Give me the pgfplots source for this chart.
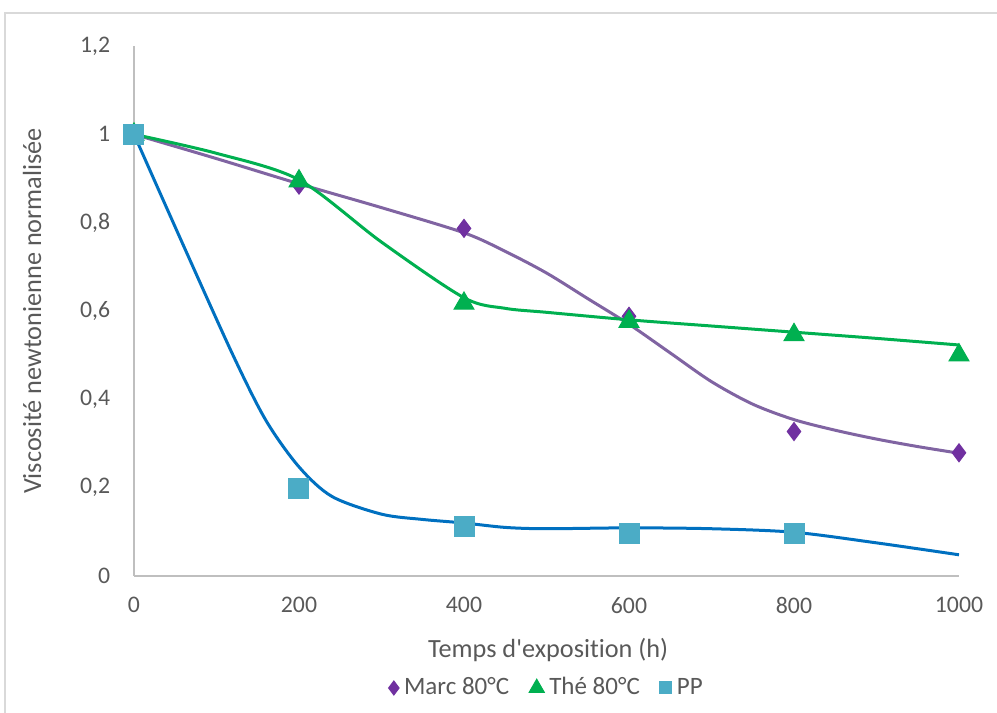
\documentclass[border=0pt]{standalone}
\usepackage{pgfplots}
\pgfplotsset{compat=1.18}
\usepackage{fontspec}
\setmainfont[Ligatures={NoCommon}]{Carlito}
\definecolor{txt}{HTML}{595959}
\definecolor{axgray}{HTML}{BFBFBF}
\definecolor{frame}{HTML}{D9D9D9}
\definecolor{marcM}{HTML}{7030A0}
\definecolor{marcL}{HTML}{8064A2}
\definecolor{the}{HTML}{00B050}
\definecolor{ppM}{HTML}{4BACC6}
\definecolor{ppL}{HTML}{0070C0}
\begin{document}
\begin{tikzpicture}
\useasboundingbox (-53.6pt,-54.8pt) rectangle (345.2pt,230.4pt);
\draw[frame, line width=0.8pt] (-51.6pt,-60pt) -- (-51.6pt,225.2pt) -- (350pt,225.2pt);
\begin{axis}[
  at={(0,0)}, anchor=south west,
  scale only axis, width=330pt, height=212pt,
  xmin=0, xmax=1000, ymin=0, ymax=1.2,
  axis x line=bottom, axis y line=left,
  axis line style={-, axgray, line width=0.8pt},
  major tick length=0pt,
  xtick={0,200,400,600,800,1000},
  xticklabels={0,200,400,600,800,1000},
  ytick={0,0.2,0.4,0.6,0.8,1,1.2},
  yticklabels={0,{0,2},{0,4},{0,6},{0,8},1,{1,2}},
  ticklabel style={font=\fontsize{9.5}{11}\selectfont, text=txt},
  yticklabel style={xshift=-6pt},
  xticklabel style={yshift=-5pt},
  xlabel={Temps d\textquotesingle exposition (h)},
  ylabel={Viscosité newtonienne normalisée},
  label style={font=\fontsize{10.5}{12}\selectfont, text=txt},
  xlabel style={at={(axis description cs:0.502,-0.1396)}, anchor=center},
  ylabel style={at={(axis description cs:-0.1236,0.5)}, anchor=center, rotate=0},
  legend style={at={(axis description cs:0.502,-0.2113)}, anchor=center, draw=none,
    font=\fontsize{10}{12}\selectfont, text=txt, legend columns=3,
    /tikz/every even column/.append style={column sep=6pt},
    /tikz/every odd column/.append style={column sep=0pt}},
  legend image code/.code={\draw[#1] plot coordinates {(0cm,0cm)};},
  legend cell align=left,
  clip=false,
]
% markers
\addplot[only marks, mark=diamond*, mark size=3.6pt, color=marcM,
  legend image post style={mark size=2.8pt}] coordinates {
(0,1) (200,0.885) (400,0.787) (600,0.588) (800,0.327) (1000,0.279)};
\addlegendentry{Marc 80°C}
\addplot[only marks, mark=triangle*, mark size=4.6pt, color=the,
  legend image post style={mark size=3.5pt}] coordinates {
(0,1) (200,0.894) (400,0.617) (600,0.576) (800,0.546) (1000,0.500)};
\addlegendentry{Thé 80°C}
\addplot[only marks, mark=square*, mark size=4pt, color=ppM,
  legend image post style={mark size=2.4pt}] coordinates {
(0,1) (200,0.199) (400,0.113) (600,0.097) (800,0.097)};
\addlegendentry{PP}
% smoothed curves
\addplot[forget plot, no marks, smooth, tension=0.5, color=marcL, line width=1.2pt] coordinates {
(0,1) (100,0.945) (200,0.888) (300,0.834) (400,0.777) (450,0.735) (500,0.686) (550,0.628)
(600,0.570) (650,0.505) (700,0.440) (750,0.389) (800,0.354) (850,0.330) (900,0.310) (950,0.293) (1000,0.278)};
\addplot[forget plot, no marks, smooth, tension=0.5, color=the, line width=1.2pt] coordinates {
(0,1) (100,0.957) (200,0.897) (300,0.756) (400,0.630) (450,0.606) (500,0.597) (600,0.580)
(700,0.566) (800,0.552) (900,0.538) (1000,0.523)};
\addplot[forget plot, no marks, smooth, tension=0.5, color=ppL, line width=1.2pt] coordinates {
(0,1) (60,0.748) (120,0.500) (160,0.352) (200,0.247) (240,0.180) (300,0.140) (350,0.128)
(400,0.120) (450,0.110) (500,0.107) (600,0.109) (700,0.107) (800,0.099) (900,0.075) (1000,0.048)};
\end{axis}
\end{tikzpicture}
\end{document}
